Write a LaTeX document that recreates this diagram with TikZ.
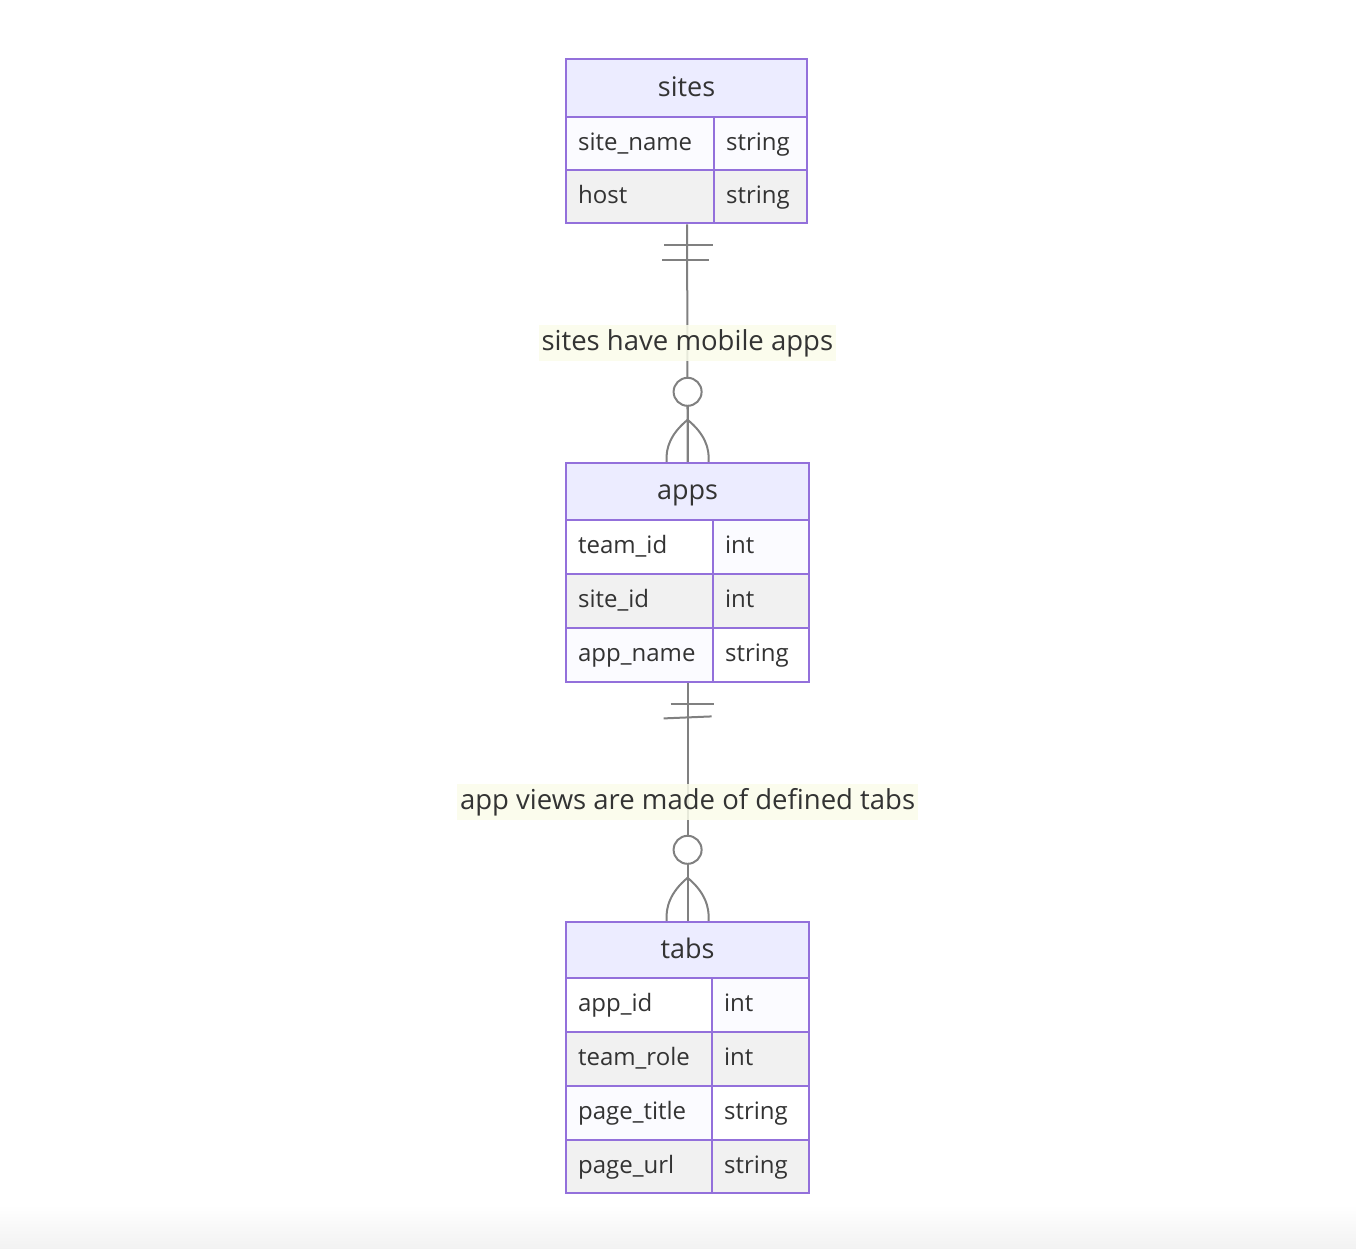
\documentclass[tikz,border=0pt]{standalone}
\usepackage{fontspec}
\setmainfont{Open Sans}
\usetikzlibrary{calc,fit}
\definecolor{er}{HTML}{9370DB}
\definecolor{hdrfill}{HTML}{ECECFF}
\definecolor{evenfill}{HTML}{F1F1F1}
\definecolor{oddfill}{HTML}{FBFBFF}
\definecolor{txt}{HTML}{333333}
\definecolor{rel}{HTML}{808080}
\definecolor{lblbg}{HTML}{FAFCEA}
\tikzset{
  hdr/.style={draw=er, fill=hdrfill, line width=2.2pt, anchor=north west,
    inner sep=0pt, text=txt, text height=21pt, text depth=5pt,
    font=\fontsize{27}{32}\selectfont},
  lcell/.style={draw=er, line width=2.2pt, anchor=north west, text=txt,
    inner xsep=12pt, inner ysep=0pt, align=left,
    text height=18.5pt, text depth=5pt,
    font=\fontsize{24}{29}\selectfont},
  relline/.style={draw=rel, line width=2pt},
  lbl/.style={fill=lblbg, fill opacity=0.85, text opacity=1, text=txt,
    inner xsep=3pt, inner ysep=5pt, text height=20pt, text depth=6pt,
    font=\fontsize{27.5}{32}\selectfont},
  tbl/.style={inner sep=0pt}
}
\begin{document}
\begin{tikzpicture}[x=1pt,y=-1pt]
\useasboundingbox (0,0) rectangle (1356,1248);
\shade[top color=white, bottom color=black!5, draw=none] (0,1205) rectangle (1356,1248);

% ---------- sites ----------
\node[hdr, minimum width=241pt, minimum height=58pt] (sites) at (565,58) {sites};
\node[lcell, fill=oddfill, minimum height=53pt, text width=124pt] (sites-a1) at (565,116) {site\_name};
\node[lcell, fill=oddfill, minimum height=53pt, text width=69pt] (sites-b1) at (713,116) {string};
\node[lcell, fill=evenfill, minimum height=53pt, text width=124pt] (sites-a2) at (565,169) {host};
\node[lcell, fill=evenfill, minimum height=53pt, text width=69pt] (sites-b2) at (713,169) {string};
\node[tbl, fit=(sites)(sites-a2)(sites-b2)] (sitesT) {};

% ---------- apps ----------
\node[hdr, minimum width=243pt, minimum height=57pt] (apps) at (565,462) {apps};
\node[lcell, fill=white, minimum height=54pt, text width=123pt] (apps-a1) at (565,519) {team\_id};
\node[lcell, fill=oddfill, minimum height=54pt, text width=72pt] (apps-b1) at (712,519) {int};
\node[lcell, fill=evenfill, minimum height=54pt, text width=123pt] (apps-a2) at (565,573) {site\_id};
\node[lcell, fill=evenfill, minimum height=54pt, text width=72pt] (apps-b2) at (712,573) {int};
\node[lcell, fill=oddfill, minimum height=54pt, text width=123pt] (apps-a3) at (565,627) {app\_name};
\node[lcell, fill=white, minimum height=54pt, text width=72pt] (apps-b3) at (712,627) {string};
\node[tbl, fit=(apps)(apps-a3)(apps-b3)] (appsT) {};

% ---------- tabs ----------
\node[hdr, minimum width=243pt, minimum height=56pt] (tabs) at (565,921) {tabs};
\node[lcell, fill=white, minimum height=54pt, text width=122pt] (tabs-a1) at (565,977) {app\_id};
\node[lcell, fill=oddfill, minimum height=54pt, text width=73pt] (tabs-b1) at (711,977) {int};
\node[lcell, fill=evenfill, minimum height=54pt, text width=122pt] (tabs-a2) at (565,1031) {team\_role};
\node[lcell, fill=evenfill, minimum height=54pt, text width=73pt] (tabs-b2) at (711,1031) {int};
\node[lcell, fill=oddfill, minimum height=54pt, text width=122pt] (tabs-a3) at (565,1085) {page\_title};
\node[lcell, fill=white, minimum height=54pt, text width=73pt] (tabs-b3) at (711,1085) {string};
\node[lcell, fill=evenfill, minimum height=53pt, text width=122pt] (tabs-a4) at (565,1139) {page\_url};
\node[lcell, fill=evenfill, minimum height=53pt, text width=73pt] (tabs-b4) at (711,1139) {string};
\node[tbl, fit=(tabs)(tabs-a4)(tabs-b4)] (tabsT) {};

% ---------- relationship 1 ----------
\coordinate (s1) at ($(sitesT.south)+(0.5,0)$);
\coordinate (e1) at (appsT.north);
\draw[relline] (s1) -- node[lbl] (l1) {sites have mobile apps} (e1);
\draw[relline] ($(s1)+(-23,21)$) -- ($(s1)+(26,21)$);
\draw[relline] ($(s1)+(-25,36)$) -- ($(s1)+(22,36)$);
\draw[relline, fill=white] ($(e1)+(0,-70)$) circle (14pt);
\draw[relline] ($(e1)+(0,-42)$) .. controls ($(e1)+(-17,-28)$) and ($(e1)+(-22,-14)$) .. ($(e1)+(-21,0)$);
\draw[relline] ($(e1)+(0,-42)$) .. controls ($(e1)+(17,-28)$) and ($(e1)+(22,-14)$) .. ($(e1)+(21,0)$);
\draw[relline] ($(e1)+(0,-56)$) -- (e1);

% ---------- relationship 2 ----------
\coordinate (s2) at (appsT.south);
\coordinate (e2) at (tabsT.north);
\draw[relline] (s2) -- node[lbl] (l2) {app views are made of defined tabs} (e2);
\draw[relline] ($(s2)+(-17,21)$) -- ($(s2)+(26,21)$);
\draw[relline] ($(s2)+(-24,35)$) -- ($(s2)+(24,33)$);
\draw[relline, fill=white] ($(e2)+(0,-71)$) circle (14pt);
\draw[relline] ($(e2)+(0,-43)$) .. controls ($(e2)+(-17,-29)$) and ($(e2)+(-22,-14)$) .. ($(e2)+(-21,0)$);
\draw[relline] ($(e2)+(0,-43)$) .. controls ($(e2)+(17,-29)$) and ($(e2)+(22,-14)$) .. ($(e2)+(21,0)$);
\draw[relline] ($(e2)+(0,-57)$) -- (e2);
\end{tikzpicture}
\end{document}
